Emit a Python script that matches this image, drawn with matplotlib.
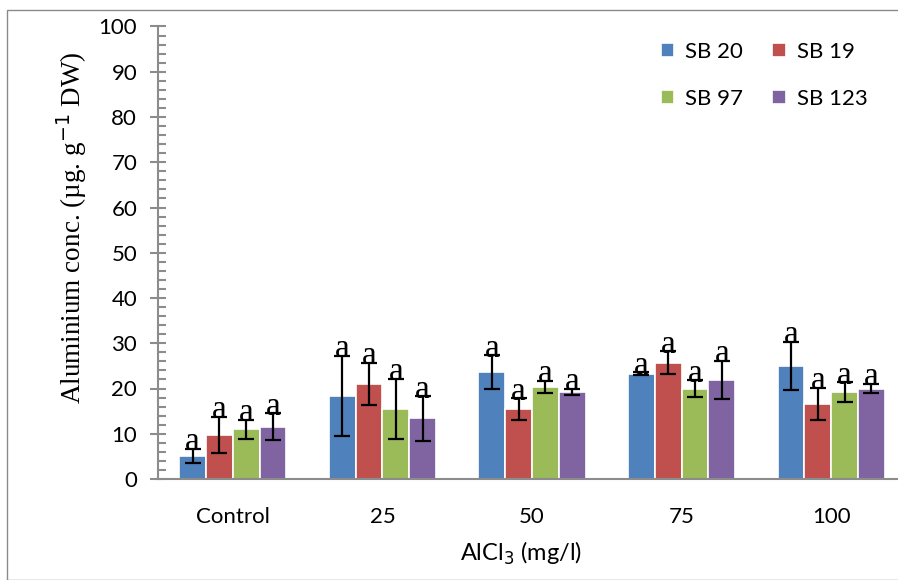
import numpy as np
import matplotlib.pyplot as plt
from matplotlib.patches import Rectangle
from matplotlib.ticker import MultipleLocator

# Aluminium content per genotype at each AlCl3 dose
doses = ['Control', '25', '50', '75', '100']
series = ['SB 20', 'SB 19', 'SB 97', 'SB 123']
colors = ['#4F81BD', '#C0504D', '#9BBB59', '#8064A2']

sb20 = [5.1, 18.3, 23.6, 23.3, 25.0]
sb19 = [9.7, 21.0, 15.4, 25.7, 16.6]
sb97 = [11.0, 15.5, 20.3, 20.0, 19.2]
sb123 = [11.6, 13.4, 19.2, 21.9, 20.0]

sb20_err = [1.5, 8.9, 3.7, 0.3, 5.3]
sb19_err = [4.0, 4.7, 2.4, 2.5, 3.5]
sb97_err = [2.1, 6.6, 1.4, 1.8, 2.2]
sb123_err = [2.9, 4.9, 0.7, 4.2, 1.0]

letters = ['a'] * 5

values = [sb20, sb19, sb97, sb123]
errors = [sb20_err, sb19_err, sb97_err, sb123_err]

W, H = 898, 580
fig = plt.figure(figsize=(W / 100, H / 100), dpi=100)

# frame around the chart area
fig.patches.append(Rectangle((7 / W, 0), 2, 1 - 10 / H, transform=fig.transFigure,
                             fill=False, edgecolor='#8a8a8a', linewidth=1))

left, right, top, bottom = 158, 906, 26.5, 479
ax = fig.add_axes([left / W, 1 - bottom / H, (right - left) / W, (bottom - top) / H])

x = np.arange(len(doses))
bw = 0.179
bars = []
for i, (vals, errs, c, name) in enumerate(zip(values, errors, colors, series)):
    pos = x + (i - 1.5) * bw
    bars.append(ax.bar(pos, vals, bw, color=c, edgecolor='white', linewidth=1.2,
                       label=name, zorder=2))
    ax.errorbar(pos, vals, yerr=errs, fmt='none', ecolor='black', elinewidth=1.6,
                capsize=5.5, capthick=1.6, zorder=3)
    for p, v, e, t in zip(pos, vals, errs, letters):
        ax.text(p, v + e - 0.3, t, ha='center', va='baseline', fontsize=24,
                family='Liberation Serif', zorder=4)

ax.set_xlim(-0.5, len(doses) - 0.5)
ax.set_ylim(0, 100)
ax.yaxis.set_major_locator(MultipleLocator(10))
ax.yaxis.set_minor_locator(MultipleLocator(2))

for s in ['top', 'right']:
    ax.spines[s].set_visible(False)
for s in ['left', 'bottom']:
    ax.spines[s].set_color('#8c8c8c')
    ax.spines[s].set_linewidth(1.5)

ax.set_xticks(x)
ax.set_xticklabels(doses, fontsize=16, family='Lato')
ax.tick_params(axis='x', length=0, pad=20)
ax.tick_params(axis='y', which='major', direction='inout', length=12, width=1.5,
               color='#8c8c8c', labelsize=16, pad=9)
ax.tick_params(axis='y', which='minor', direction='in', length=6, width=1.5,
               color='#8c8c8c')
for lbl in ax.get_yticklabels():
    lbl.set_family('Lato')

fig.text(521 / W, 1 - 553 / H, r'AlCl$_3$ (mg/l)', ha='center', va='center',
         fontsize=17, family='Lato')
fig.text(72 / W, 1 - 228 / H, r'Aluminium conc. (µg. g$^{-1}$ DW)', ha='center',
         va='center', rotation=90, fontsize=19.5, family='Liberation Serif')

# row-wise legend: SB 20, SB 19 / SB 97, SB 123
order = [0, 2, 1, 3]
ax.legend([bars[k] for k in order], [series[k] for k in order], ncol=2,
          loc='upper left', bbox_to_anchor=(641 / W, 1 - 22 / H),
          bbox_transform=fig.transFigure, frameon=False,
          prop={'family': 'Lato', 'size': 16},
          handlelength=0.6, handleheight=0.6, handletextpad=0.5,
          columnspacing=1.3, labelspacing=1.2)

fig.savefig('out.png', dpi=100)
